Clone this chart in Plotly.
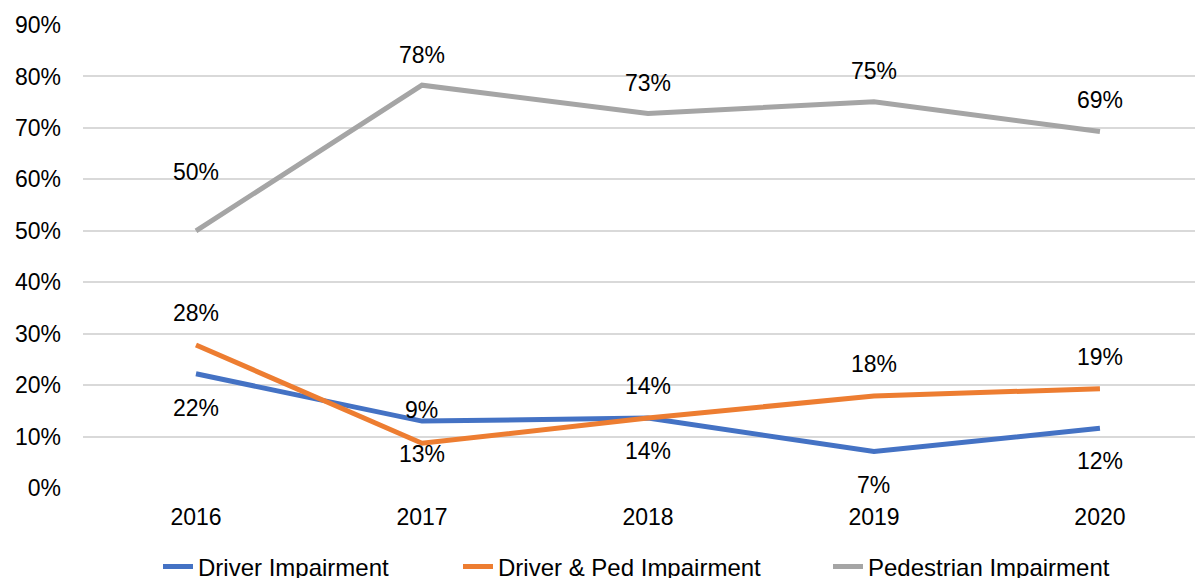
import plotly.graph_objects as go

years = ["2016", "2017", "2018", "2019", "2020"]
driver = [0.222, 0.130, 0.136, 0.071, 0.116]
driver_ped = [0.278, 0.087, 0.136, 0.179, 0.193]
pedestrian = [0.500, 0.783, 0.728, 0.751, 0.693]

# (name, values, colour, label pixel offsets, legend entry width)
series = [
    ("Driver Impairment", driver, "#4472C4", [-34, -33, -33, -34, -33], 255),
    ("Driver & Ped Impairment", driver_ped, "#ED7D31", [32, 33, 32, 32, 32], 325),
    ("Pedestrian Impairment", pedestrian, "#A5A5A5", [59, 30, 30, 31, 31], 260),
]

FONT = "Liberation Sans, Arial, sans-serif"
fig = go.Figure()
annotations = []
for name, vals, color, shifts, lw in series:
    fig.add_trace(go.Scatter(
        x=years, y=vals, name=name, mode="lines",
        line=dict(color=color, width=5), legendwidth=lw,
    ))
    for i, (v, s) in enumerate(zip(vals, shifts)):
        annotations.append(dict(
            x=i, y=v, xref="x", yref="y", text=f"{v:.0%}", showarrow=False,
            yshift=s, xanchor="center", yanchor="middle",
            font=dict(size=23, color="#000000", family=FONT),
        ))

fig.update_layout(
    width=1195, height=570,
    margin=dict(l=75, r=0, t=17, b=90, autoexpand=False),
    paper_bgcolor="white", plot_bgcolor="white",
    font=dict(family=FONT, size=23, color="#000000"),
    annotations=annotations,
    showlegend=True,
    legend=dict(
        orientation="h", x=75 / 1120, xanchor="left", y=-79 / 463, yanchor="middle",
        font=dict(size=24, family=FONT, color="#000000"),
    ),
    xaxis=dict(
        type="category", range=[-0.5, 4.456], showgrid=False,
        showline=False, ticks="", zeroline=False, automargin=False,
        tickfont=dict(size=23), ticklabelstandoff=13,
    ),
    yaxis=dict(
        range=[0, 0.9], dtick=0.1, tickformat=".0%",
        showgrid=True, gridcolor="#D9D9D9", gridwidth=1.5,
        zeroline=False, showline=False, ticks="", automargin=False,
        tickfont=dict(size=23), ticklabelstandoff=21,
    ),
)

fig.write_html("out.html")
